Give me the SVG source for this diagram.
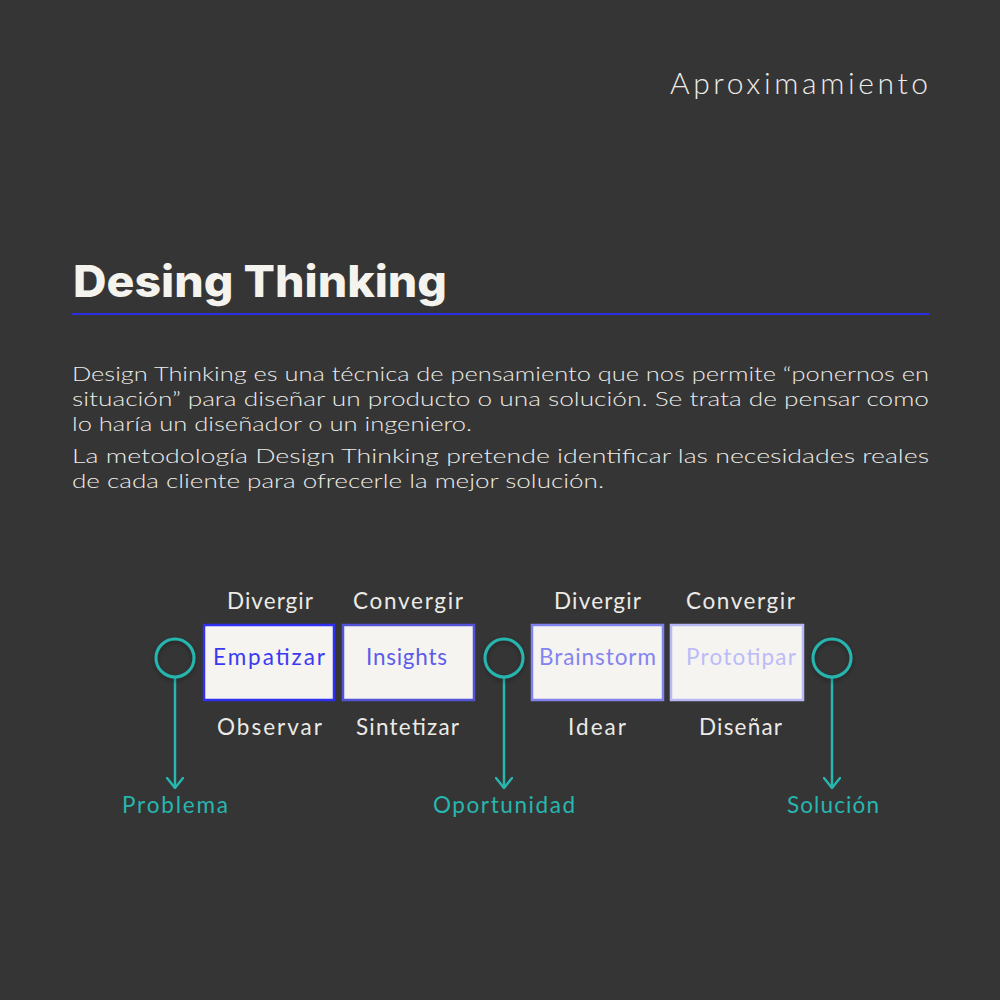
<svg xmlns="http://www.w3.org/2000/svg" width="1000" height="1000" viewBox="0 0 1000 1000">
  <defs>
    <style>
      .bg { fill: #353535; }
      .light { font-family: Lato, "Noto Sans", sans-serif; font-weight: 300; fill: #eeece8; }
      .body { font-family: Lato, "Noto Sans", sans-serif; font-weight: 300; font-size: 20px; fill: #eeece8; }
      .lbl { font-family: Lato, "Noto Sans", sans-serif; font-weight: 400; font-size: 22.5px; fill: #eceae6; }
      .step { font-family: Lato, "Noto Sans", sans-serif; font-weight: 400; font-size: 22.5px; }
      .box { fill: #f5f4f0; stroke-width: 2.5; }
      .ring { fill: none; stroke: #27b6b0; stroke-width: 3; }
      .conn { fill: none; stroke: #27b6b0; stroke-width: 2.5; }
      .out { font-family: Lato, "Noto Sans", sans-serif; font-weight: 400; font-size: 22.5px; fill: #27b6b0; }
    </style>
    <marker id="vee" viewBox="0 0 12 18" refX="11" refY="9" markerWidth="12" markerHeight="18" markerUnits="userSpaceOnUse" orient="auto">
      <path d="M1,1 L11,9 L1,17" fill="none" stroke="#27b6b0" stroke-width="2.4" stroke-linecap="round" stroke-linejoin="round"/>
    </marker>
    <filter id="soft" x="-50%" y="-50%" width="200%" height="200%">
      <feDropShadow dx="0" dy="2" stdDeviation="2.5" flood-color="#000" flood-opacity="0.35"/>
    </filter>
  </defs>

  <rect class="bg" x="0" y="0" width="1000" height="1000"/>

  <!-- header -->
  <text class="light" x="670" y="94" font-size="30" textLength="258" lengthAdjust="spacing">Aproximamiento</text>

  <!-- title and rule -->
  <text x="73" y="297" font-family="Inter, Lato, sans-serif" font-weight="800" font-size="44" fill="#f4f3ee" textLength="374" lengthAdjust="spacingAndGlyphs">Desing Thinking</text>
  <line x1="72" y1="314" x2="929" y2="314" stroke="#2d2de6" stroke-width="2"/>

  <!-- description -->
  <g id="description">
    <text class="body" x="72" y="381" textLength="857" lengthAdjust="spacingAndGlyphs">Design Thinking es una técnica de pensamiento que nos permite “ponernos en</text>
    <text class="body" x="72" y="406" textLength="857" lengthAdjust="spacingAndGlyphs">situación” para diseñar un producto o una solución. Se trata de pensar como</text>
    <text class="body" x="72" y="431" textLength="400" lengthAdjust="spacingAndGlyphs">lo haría un diseñador o un ingeniero.</text>
    <text class="body" x="72" y="463" textLength="857" lengthAdjust="spacingAndGlyphs">La metodología Design Thinking pretende identificar las necesidades reales</text>
    <text class="body" x="72" y="488" textLength="532" lengthAdjust="spacingAndGlyphs">de cada cliente para ofrecerle la mejor solución.</text>
  </g>

  <!-- connectors -->
  <g id="connectors">
    <line class="conn" x1="175" y1="677" x2="175" y2="788" marker-end="url(#vee)"/>
    <line class="conn" x1="504" y1="677" x2="504" y2="788" marker-end="url(#vee)"/>
    <line class="conn" x1="832" y1="677" x2="832" y2="788" marker-end="url(#vee)"/>
  </g>

  <!-- milestones -->
  <g id="problema">
    <circle class="ring" cx="175" cy="658" r="19" filter="url(#soft)"/>
    <text class="out" x="122" y="813" textLength="106" lengthAdjust="spacing">Problema</text>
  </g>
  <g id="oportunidad">
    <circle class="ring" cx="504" cy="658" r="19" filter="url(#soft)"/>
    <text class="out" x="433" y="813" textLength="142" lengthAdjust="spacing">Oportunidad</text>
  </g>
  <g id="solucion">
    <circle class="ring" cx="832" cy="658" r="19" filter="url(#soft)"/>
    <text class="out" x="787" y="813" textLength="92" lengthAdjust="spacing">Solución</text>
  </g>

  <!-- phases -->
  <g id="empatizar">
    <text class="lbl" x="227" y="609" textLength="86" lengthAdjust="spacing">Divergir</text>
    <rect class="box" x="204" y="625" width="130" height="75" stroke="#3030f0"/>
    <text class="step" x="213" y="665" fill="#3a3af2" textLength="112" lengthAdjust="spacing">Empatizar</text>
    <text class="lbl" x="217" y="735" textLength="105" lengthAdjust="spacing">Observar</text>
  </g>
  <g id="insights">
    <text class="lbl" x="353" y="609" textLength="110" lengthAdjust="spacing">Convergir</text>
    <rect class="box" x="343" y="625" width="131" height="75" stroke="#5353d6"/>
    <text class="step" x="366" y="665" fill="#5c5ce8" textLength="81" lengthAdjust="spacing">Insights</text>
    <text class="lbl" x="356" y="735" textLength="103" lengthAdjust="spacing">Sintetizar</text>
  </g>
  <g id="brainstorm">
    <text class="lbl" x="554" y="609" textLength="87" lengthAdjust="spacing">Divergir</text>
    <rect class="box" x="532" y="625" width="131" height="75" stroke="#8282ee"/>
    <text class="step" x="539" y="665" fill="#8484f0" textLength="117" lengthAdjust="spacing">Brainstorm</text>
    <text class="lbl" x="568" y="735" textLength="58" lengthAdjust="spacing">Idear</text>
  </g>
  <g id="prototipar">
    <text class="lbl" x="686" y="609" textLength="109" lengthAdjust="spacing">Convergir</text>
    <rect class="box" x="671" y="625" width="132" height="75" stroke="#b8b8f4"/>
    <text class="step" x="686" y="665" fill="#bcbcf8" textLength="110" lengthAdjust="spacing">Prototipar</text>
    <text class="lbl" x="699" y="735" textLength="83" lengthAdjust="spacing">Diseñar</text>
  </g>
</svg>
